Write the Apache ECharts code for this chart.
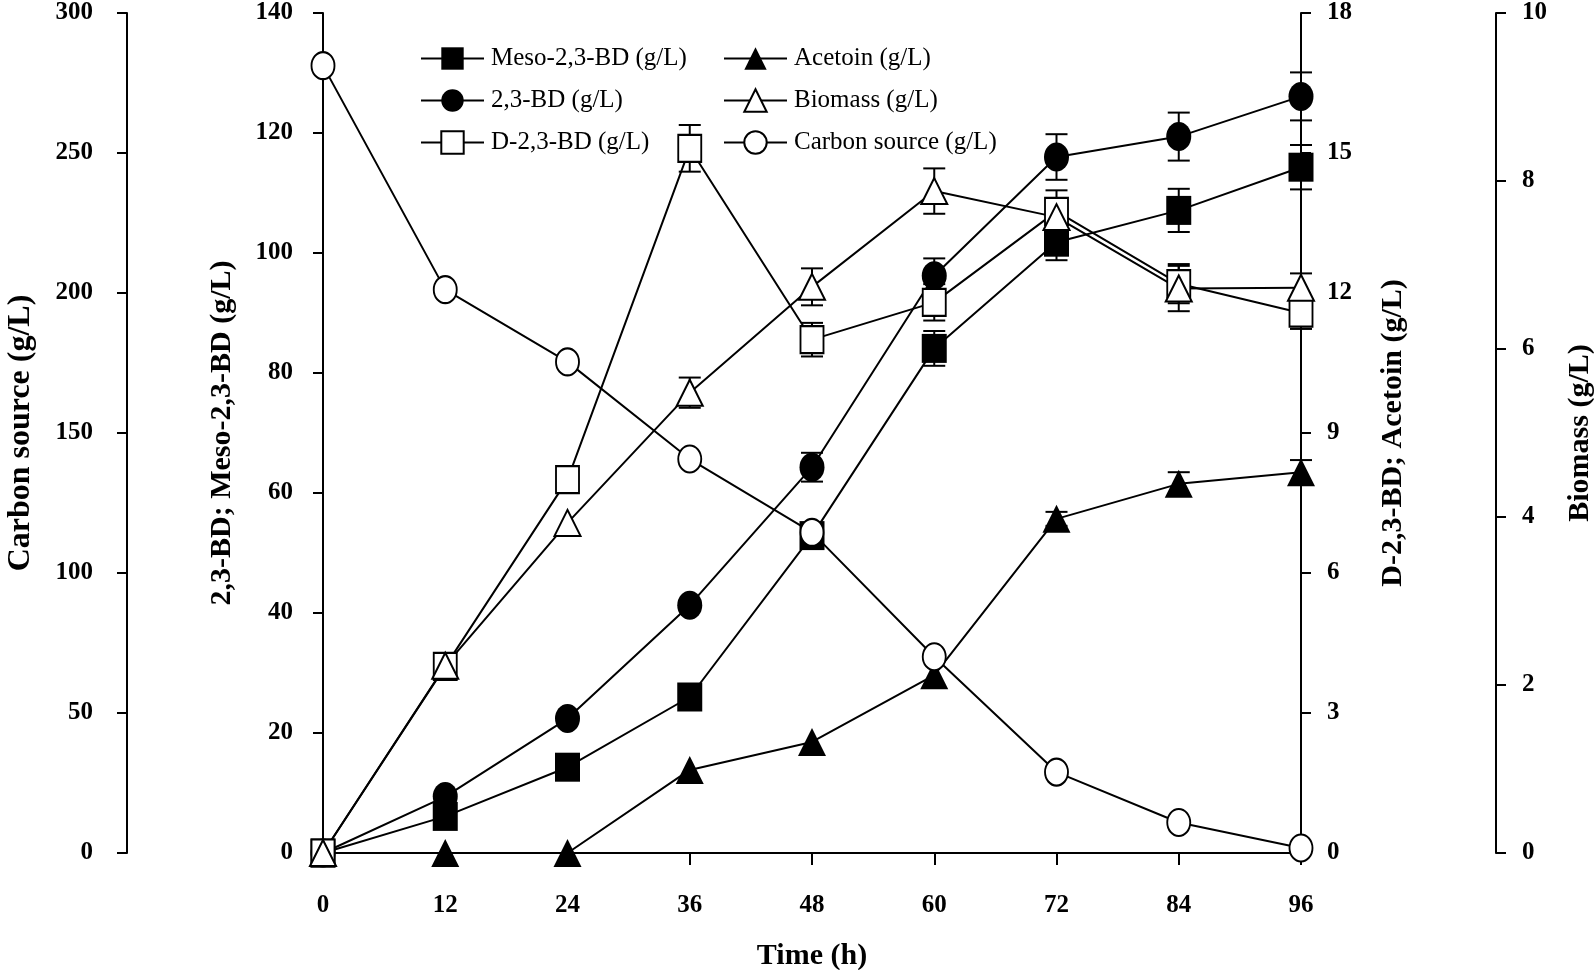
<!DOCTYPE html>
<html><head><meta charset="utf-8">
<script src="https://cdn.jsdelivr.net/npm/echarts@6/dist/echarts.min.js"></script>
<style>html,body{margin:0;padding:0;background:#fff}#chart{width:1594px;height:970px}</style>
</head><body><div id="chart"></div>
<script>
// ---- data ----
const timeH = [0, 12, 24, 36, 48, 60, 72, 84, 96];
const mesoBD = [0, 6.1, 14.3, 26.0, 52.9, 84.1, 101.8, 107.1, 114.3];
const mesoErr = [0, 0, 0, 0, 0, 2.9, 3.0, 3.6, 3.7];
const bd23 = [0, 9.4, 22.4, 41.3, 64.3, 96.2, 116.0, 119.4, 126.1];
const bd23Err = [0, 0, 0, 0, 2.4, 2.9, 3.8, 4.0, 4.0];
const dBD = [0, 4.0, 8.0, 15.1, 11.0, 11.8, 13.75, 12.2, 11.57];
const dBDErr = [0, 0, 0, 0.5, 0.36, 0.39, 0.45, 0.42, 0.34];
const acetoin = [0, 0, 0, 1.78, 2.38, 3.81, 7.16, 7.91, 8.16];
const acetoinErr = [0, 0, 0, 0, 0, 0, 0.15, 0.25, 0.26];
const biomass = [0, 2.23, 3.93, 5.48, 6.74, 7.88, 7.57, 6.72, 6.73];
const biomassErr = [0, 0, 0, 0.18, 0.22, 0.27, 0.2, 0.27, 0.17];
const carbon = [281.2, 201.2, 175.4, 140.7, 114.5, 70.1, 28.9, 10.9, 1.8];

const xTicks = {min: 0, max: 96, interval: 12};
const names = {
  meso: 'Meso-2,3-BD (g/L)', bd: '2,3-BD (g/L)', dbd: 'D-2,3-BD (g/L)',
  ace: 'Acetoin (g/L)', bio: 'Biomass (g/L)', car: 'Carbon source (g/L)'
};

const F = 'Liberation Serif';
function pairs(v) { return timeH.map((t, i) => [t, v[i]]); }
function errs(v, e) {
  const out = [];
  timeH.forEach((t, i) => { if (e[i] > 0) out.push([t, v[i] - e[i], v[i] + e[i]]); });
  return out;
}
function renderErr(params, api) {
  const x = api.value(0);
  const lo = api.coord([x, api.value(1)]);
  const hi = api.coord([x, api.value(2)]);
  const hw = 11;
  const st = {stroke: '#000', lineWidth: 2};
  return {type: 'group', children: [
    {type: 'line', shape: {x1: lo[0], y1: lo[1], x2: hi[0], y2: hi[1]}, style: st},
    {type: 'line', shape: {x1: lo[0] - hw, y1: lo[1], x2: lo[0] + hw, y2: lo[1]}, style: st},
    {type: 'line', shape: {x1: hi[0] - hw, y1: hi[1], x2: hi[0] + hw, y2: hi[1]}, style: st}
  ]};
}
function errSeries(v, e, yi) {
  return {type: 'custom', yAxisIndex: yi, renderItem: renderErr, data: errs(v, e),
          encode: {x: 0, y: [1, 2]}, z: 1, silent: true, clip: false};
}
function lineSeries(name, v, yi, symbol, filled, size, z) {
  return {
    name, type: 'line', yAxisIndex: yi, data: pairs(v), symbol, symbolSize: size,
    showSymbol: true, showAllSymbol: true, clip: false, z,
    itemStyle: filled ? {color: '#000', borderWidth: 0} : {color: '#fff', borderColor: '#000', borderWidth: 2},
    lineStyle: {color: '#000', width: 2}
  };
}
function yAx(o) {
  return Object.assign({
    type: 'value', nameLocation: 'middle', nameRotate: 90,
    nameTextStyle: {fontFamily: F, fontSize: 30, fontWeight: 'bold', color: '#000'},
    axisLine: {show: true, onZero: false, lineStyle: {color: '#000', width: 2}},
    axisTick: {show: true, inside: false, length: 10, lineStyle: {color: '#000', width: 2}},
    axisLabel: {fontFamily: F, fontSize: 25, fontWeight: 'bold', color: '#000', margin: 30},
    splitLine: {show: false}
  }, o);
}
const legendText = {fontFamily: F, fontSize: 25, color: '#000', padding: [0, 0, 0, 2]};

const option = {
  animation: false,
  backgroundColor: '#fff',
  grid: {left: 323, top: 13, width: 978, height: 840, containLabel: false, outerBoundsMode: 'none'},
  legend: [
    {left: 415, top: 41, orient: 'vertical', itemWidth: 63, itemHeight: 28, itemGap: 17,
     selectedMode: false, textStyle: legendText, data: [names.meso, names.bd, names.dbd]},
    {left: 718, top: 41, orient: 'vertical', itemWidth: 63, itemHeight: 28, itemGap: 17,
     selectedMode: false, textStyle: legendText, data: [names.ace, names.bio, names.car]}
  ],
  xAxis: {
    type: 'value', min: xTicks.min, max: xTicks.max, interval: xTicks.interval,
    name: 'Time (h)', nameLocation: 'middle', nameGap: 88,
    nameTextStyle: {fontFamily: F, fontSize: 30, fontWeight: 'bold', color: '#000'},
    axisLine: {show: true, onZero: false, lineStyle: {color: '#000', width: 2}},
    axisTick: {show: true, length: 12, lineStyle: {color: '#000', width: 2}},
    axisLabel: {fontFamily: F, fontSize: 25, fontWeight: 'bold', color: '#000', margin: 40},
    splitLine: {show: false}
  },
  yAxis: [
    yAx({position: 'left', offset: 0, min: 0, max: 140, interval: 20,
         name: '2,3-BD; Meso-2,3-BD (g/L)', nameGap: 86}),
    yAx({position: 'left', offset: 196, min: 0, max: 300, interval: 50,
         name: 'Carbon source (g/L)', nameGap: 90,
         nameTextStyle: {fontFamily: F, fontSize: 32, fontWeight: 'bold', color: '#000'},
         axisLabel: {fontFamily: F, fontSize: 25, fontWeight: 'bold', color: '#000', margin: 34}}),
    yAx({position: 'right', offset: 0, min: 0, max: 18, interval: 3,
         name: 'D-2,3-BD; Acetoin (g/L)', nameGap: 77,
         axisLabel: {fontFamily: F, fontSize: 25, fontWeight: 'bold', color: '#000', margin: 26}}),
    yAx({position: 'right', offset: 195, min: 0, max: 10, interval: 2,
         name: 'Biomass (g/L)', nameGap: 69,
         axisLabel: {fontFamily: F, fontSize: 25, fontWeight: 'bold', color: '#000', margin: 26}})
  ],
  series: [
    errSeries(mesoBD, mesoErr, 0),
    errSeries(bd23, bd23Err, 0),
    errSeries(dBD, dBDErr, 2),
    errSeries(acetoin, acetoinErr, 2),
    errSeries(biomass, biomassErr, 3),
    lineSeries(names.meso, mesoBD, 0, 'rect', true, [25, 29], 3),
    lineSeries(names.bd, bd23, 0, 'circle', true, [25, 29], 3),
    lineSeries(names.dbd, dBD, 2, 'rect', false, [23, 27], 3),
    lineSeries(names.ace, acetoin, 2, 'triangle', true, [28, 28], 3),
    lineSeries(names.bio, biomass, 3, 'triangle', false, [26, 26], 3),
    lineSeries(names.car, carbon, 1, 'circle', false, [23, 27], 3)
  ]
};
const chart = echarts.init(document.getElementById('chart'), null, {renderer: 'canvas'});
chart.setOption(option);
</script>
</body></html>
